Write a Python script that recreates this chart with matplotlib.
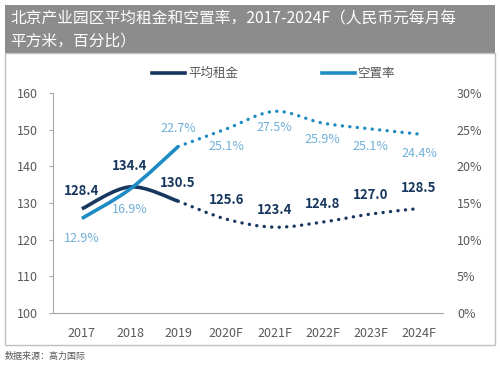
import numpy as np
import matplotlib
matplotlib.use("Agg")
import matplotlib.pyplot as plt
from matplotlib.path import Path
from matplotlib.patches import PathPatch, Rectangle

plt.rcParams['font.family'] = ['Noto Sans CJK SC', 'DejaVu Sans']

years = ["2017", "2018", "2019", "2020F", "2021F", "2022F", "2023F", "2024F"]
rent = [128.4, 134.4, 130.5, 125.6, 123.4, 124.8, 127.0, 128.5]
vacancy = [12.9, 16.9, 22.7, 25.1, 27.5, 25.9, 25.1, 24.4]
n_actual = 3  # 2017-2019 solid, forecasts dotted

RENT_C = "#17375E"
VAC_C = "#1E8BC3"
VAC_LBL = "#6FB0D8"
GRAY = "#595959"


def smooth_path(xs, ys):
    # catmull-rom style bezier through the points
    xs = np.asarray(xs, float)
    ys = np.asarray(ys, float)
    verts = [(xs[0], ys[0])]
    codes = [Path.MOVETO]
    for i in range(len(xs) - 1):
        p0 = (xs[max(i - 1, 0)], ys[max(i - 1, 0)])
        p1 = (xs[i], ys[i])
        p2 = (xs[i + 1], ys[i + 1])
        p3 = (xs[min(i + 2, len(xs) - 1)], ys[min(i + 2, len(xs) - 1)])
        c1 = (p1[0] + (p2[0] - p0[0]) / 6, p1[1] + (p2[1] - p0[1]) / 6)
        c2 = (p2[0] - (p3[0] - p1[0]) / 6, p2[1] - (p3[1] - p1[1]) / 6)
        verts += [c1, c2, p2]
        codes += [Path.CURVE4] * 3
    return Path(verts, codes)


def draw_series(ax, vals, color):
    x = np.arange(len(vals))
    solid = smooth_path(x[:n_actual], vals[:n_actual])
    dotted = smooth_path(x[n_actual - 1:], vals[n_actual - 1:])
    ax.add_patch(PathPatch(solid, fill=False, edgecolor=color, lw=2.6,
                           capstyle="butt", zorder=3))
    ax.add_patch(PathPatch(dotted, fill=False, edgecolor=color, lw=2.4,
                           linestyle=(0, (0.05, 2.2)), capstyle="round", zorder=3))


fig = plt.figure(figsize=(5, 3.67), dpi=100)

# title bar and chart frame
fig.patches.append(Rectangle((5 / 500, 1 - 53 / 367), 490 / 500, 48 / 367,
                             transform=fig.transFigure, facecolor="#8C8C8C",
                             edgecolor="none"))
fig.patches.append(Rectangle((5 / 500, 1 - 345 / 367), 490 / 500, 292 / 367,
                             transform=fig.transFigure, facecolor="none",
                             edgecolor="#BFBFBF", lw=1))
fig.text(10 / 500, 1 - 19 / 367, "北京产业园区平均租金和空置率，2017-2024F（人民币元每月每",
         color="white", fontsize=11.3, va="center")
fig.text(10 / 500, 1 - 41 / 367, "平方米，百分比）", color="white", fontsize=11.3, va="center")
fig.text(5 / 500, 1 - 356 / 367, "数据来源：高力国际", color=GRAY, fontsize=6.5, va="center")

ax = fig.add_axes([53 / 500, 54 / 367, 390 / 500, 220 / 367])
ax2 = ax.twinx()

ax.set_xlim(-0.6, 7.5)
ax.set_ylim(100, 160)
ax.set_yticks(range(100, 161, 10))
ax2.set_ylim(0, 30)
ax2.set_yticks(range(0, 31, 5))
ax2.set_yticklabels([f"{v}%" for v in range(0, 31, 5)])

ax.set_xticks(range(len(years)))
ax.set_xticklabels(years)

for a in (ax, ax2):
    for s in a.spines.values():
        s.set_visible(False)
ax.spines["left"].set_visible(True)
ax.spines["bottom"].set_visible(True)
ax.spines["left"].set_color("#A6A6A6")
ax.spines["bottom"].set_color("#A6A6A6")
ax.tick_params(axis="y", length=3, color="#A6A6A6", labelcolor=GRAY, labelsize=9, pad=8)
ax.tick_params(axis="x", length=0, labelcolor=GRAY, labelsize=9, pad=10)
ax2.tick_params(axis="y", length=0, labelcolor=GRAY, labelsize=9, pad=10)

draw_series(ax, rent, RENT_C)
draw_series(ax2, vacancy, VAC_C)

rent_off = [8, 10, 8, 9, 7, 8, 9, 10]
for i, v in enumerate(rent):
    ax.annotate(f"{v:.1f}", (i, v), xytext=(0, rent_off[i]), textcoords="offset points",
                ha="center", va="bottom", color=RENT_C, fontsize=9.5, fontweight="bold")

vac_off = [-10, -10, 8, -8, -7, -7, -8, -9]
for i, v in enumerate(vacancy):
    ax2.annotate(f"{v:.1f}%", (i, v), xytext=(0, vac_off[i]), textcoords="offset points",
                 ha="center", va="top" if vac_off[i] < 0 else "bottom",
                 color=VAC_LBL, fontsize=9)

# legend
fig.lines.append(plt.Line2D([152 / 500, 185 / 500], [1 - 73 / 367] * 2,
                            transform=fig.transFigure, color=RENT_C, lw=2.6))
fig.text(188 / 500, 1 - 73 / 367, "平均租金", color=GRAY, fontsize=9, va="center")
fig.lines.append(plt.Line2D([322 / 500, 355 / 500], [1 - 73 / 367] * 2,
                            transform=fig.transFigure, color=VAC_C, lw=2.6))
fig.text(357 / 500, 1 - 73 / 367, "空置率", color=GRAY, fontsize=9, va="center")

fig.savefig("out.png", dpi=100)
